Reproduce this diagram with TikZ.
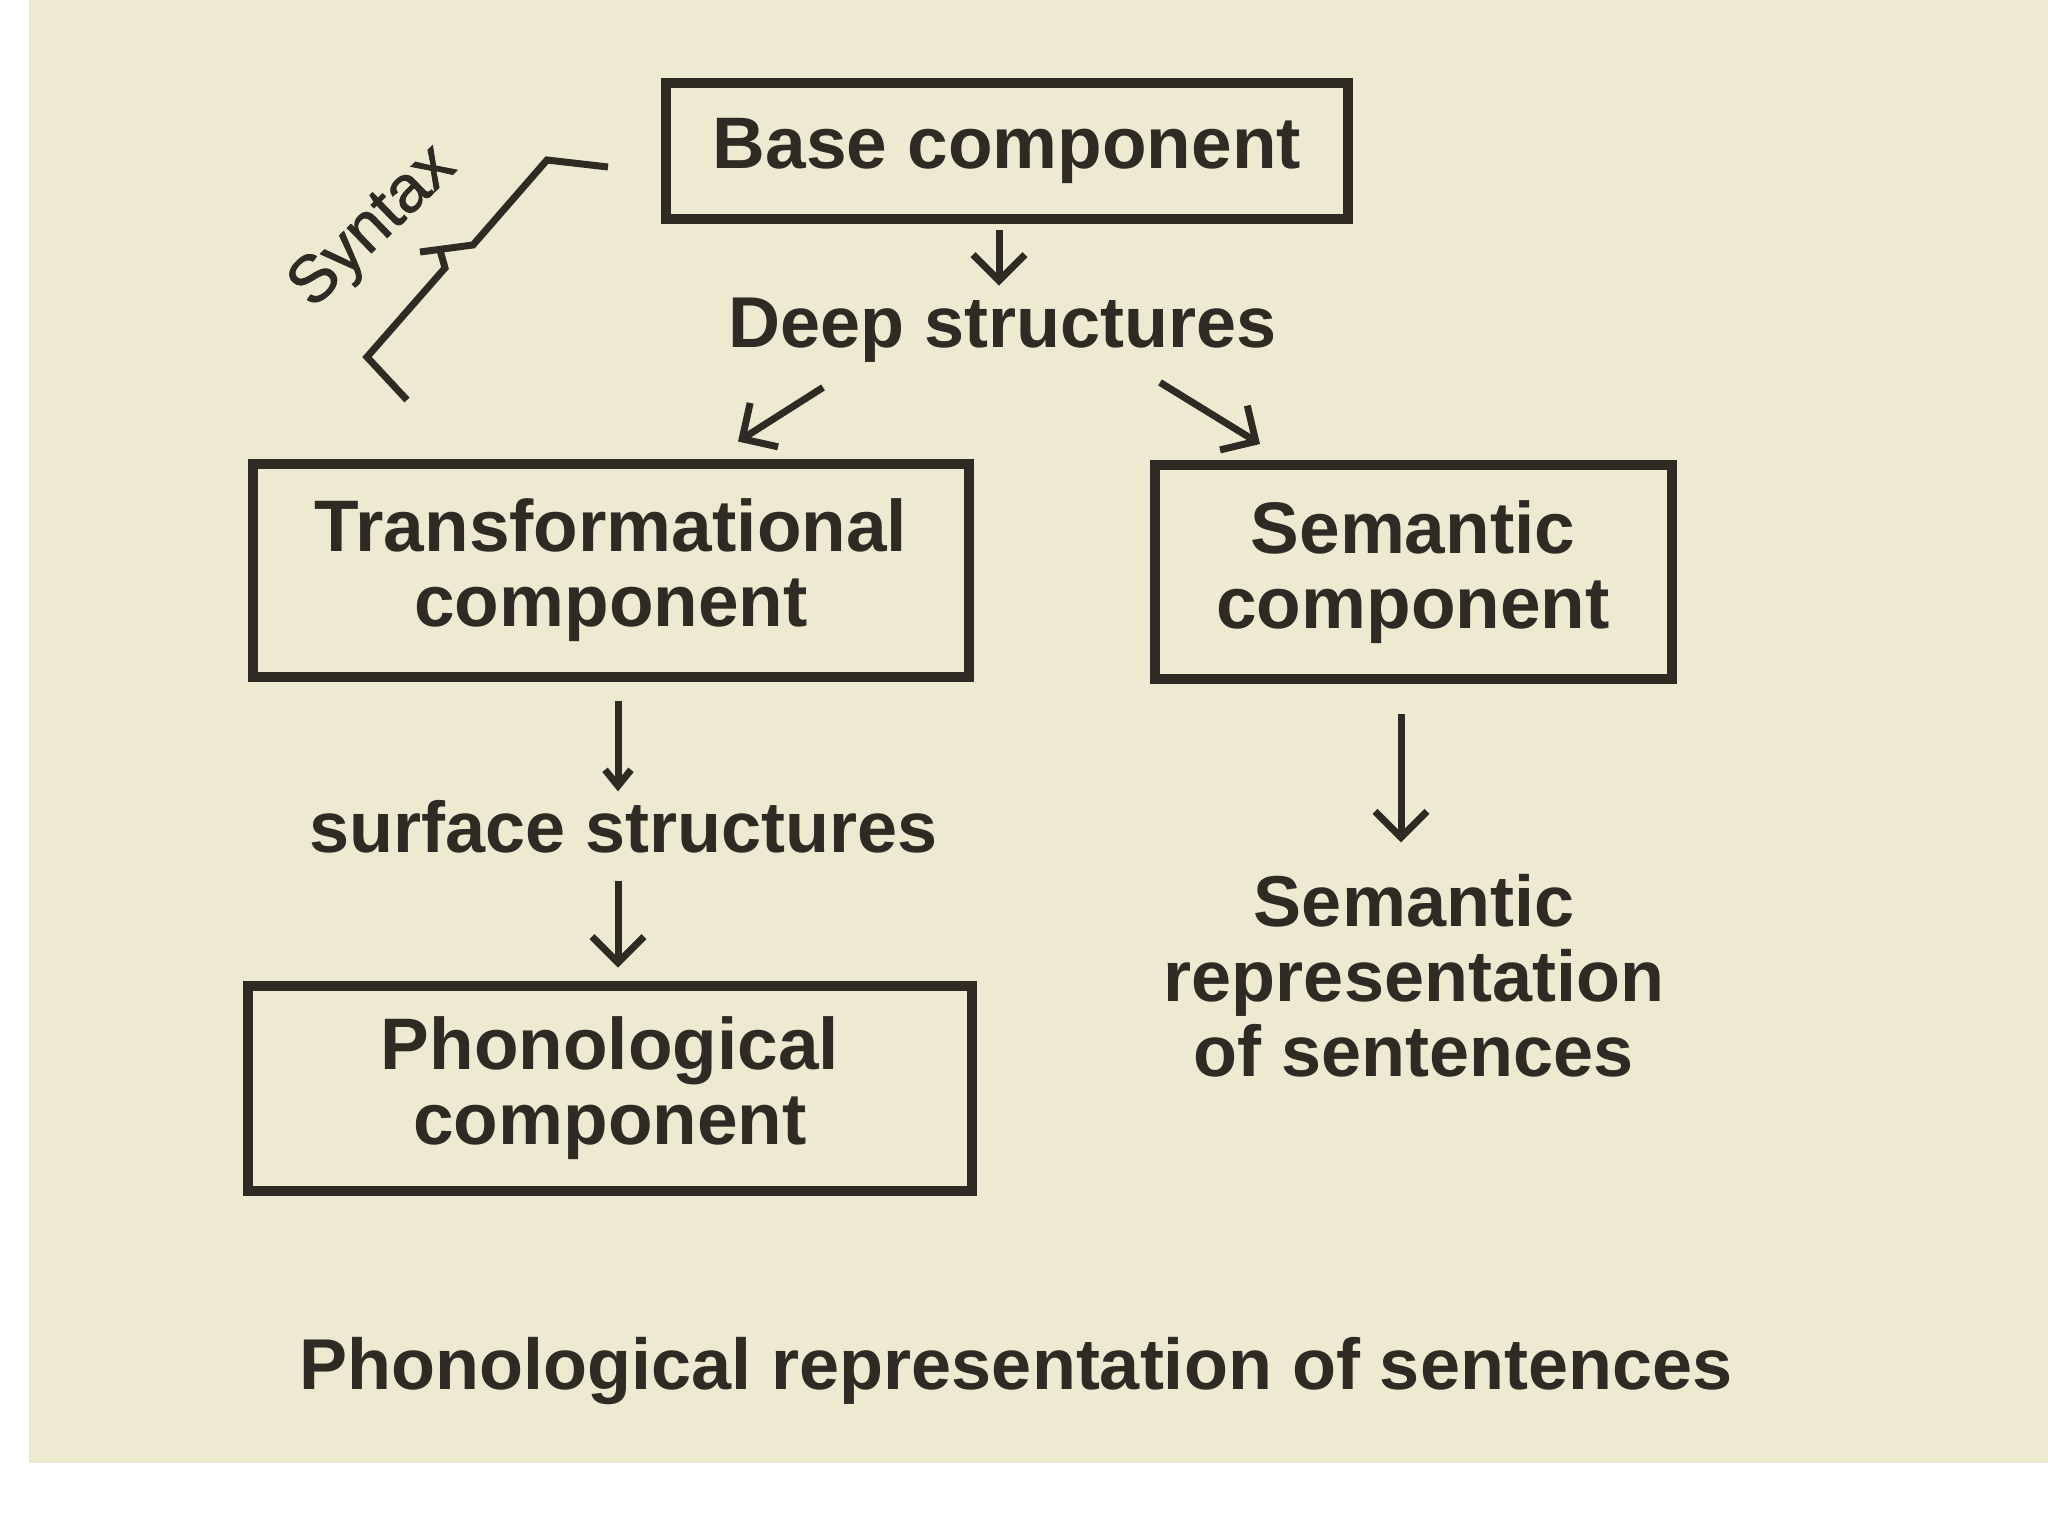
\documentclass[tikz,border=0pt]{standalone}
\usepackage{fontspec}
\setmainfont{Liberation Sans}
\newfontfamily\synfont[FakeBold=1.2]{Liberation Sans}
\usetikzlibrary{arrows.meta}
\definecolor{paper}{RGB}{238,234,210}
\definecolor{ink}{RGB}{46,42,36}
\begin{document}
\begin{tikzpicture}[x=1pt,y=-1pt,
  box/.style={draw=ink, line width=10pt, inner sep=0pt, align=center, text=ink,
    font=\fontsize{73}{75}\selectfont\bfseries},
  lbl/.style={inner sep=0pt, align=center, text=ink,
    font=\fontsize{72}{75}\selectfont\bfseries},
  arr/.style={draw=ink, line width=7pt,
    -{Straight Barb[length=26pt,width=52pt,line width=7pt]}},
  arrsmall/.style={draw=ink, line width=7pt,
    -{Straight Barb[length=16pt,width=26pt,line width=7pt]}},
  brace/.style={draw=ink, line width=7pt, line join=miter}]
\useasboundingbox (0,0) rectangle (2048,1536);
\fill[white] (0,0) rectangle (2048,1536);
\fill[paper] (29,0) rectangle (2048,1463);

\node[box, minimum width=682pt, minimum height=135pt] (base) at (1007,151) {Base component};
\node[lbl] (deep) at (1003,330) {Deep structures};
\node[box, minimum width=716pt, minimum height=213pt] (trans) at (611,570) {Transformational\\component};
\node[box, minimum width=517pt, minimum height=214pt] (sem) at (1413,572) {Semantic\\component};
\node[lbl] (surf) at (624,827) {surface structures};
\node[box, minimum width=724pt, minimum height=205pt] (phon) at (610,1088) {Phonological\\component};
\node[lbl] (semrep) at (1414,976) {Semantic\\representation\\of sentences};
\node[lbl] (phonrep) at (1016,1371) {Phonological representation of sentences};
\node[rotate=44, inner sep=0pt, text=ink, font=\fontsize{66}{68}\synfont] (syn) at (374,228) {Syntax};

\draw[arr] ([shift={(-8pt,-6pt)}]base.south) -- ([shift={(-4pt,12pt)}]deep.north);
\draw[arr] ([shift={(-180pt,-25pt)}]deep.south) -- ([shift={(127pt,17pt)}]trans.north);
\draw[arr] ([shift={(157pt,-20pt)}]deep.south) -- ([shift={(-153pt,16pt)}]sem.north);
\draw[arrsmall] ([shift={(7pt,-19pt)}]trans.south) -- ([shift={(-6pt,9pt)}]surf.north);
\draw[arr] ([shift={(-6pt,-27pt)}]surf.south) -- ([shift={(8pt,13pt)}]phon.north);
\draw[arr] ([shift={(-12pt,-30pt)}]sem.south) -- ([shift={(-13pt,32pt)}]semrep.north);

\draw[brace] (608,167) -- (547,160) -- (473,245) -- (420,252);
\draw[brace] (440,250) -- (445,268) -- (367,357) -- (407,400);
\end{tikzpicture}
\end{document}
